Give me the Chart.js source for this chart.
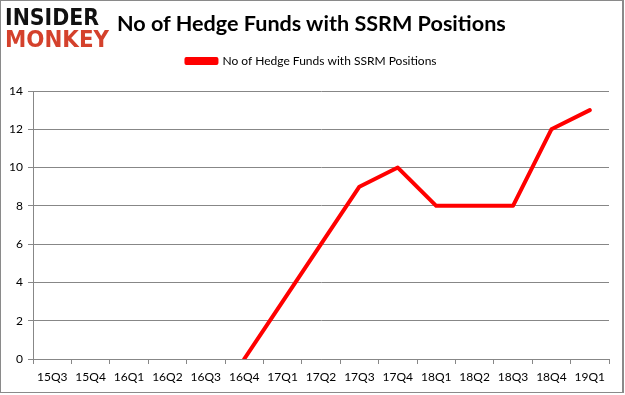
<!DOCTYPE html>
<html><head><meta charset="utf-8">
<script src="https://cdn.jsdelivr.net/npm/chart.js@4/dist/chart.umd.min.js"></script>
<style>
html,body{margin:0;padding:0;background:#fff;}
#wrap{position:relative;width:625px;height:395px;overflow:hidden;background:#fff;}
#frame{position:absolute;left:0;top:0;width:621px;height:391px;border:1px solid #8a8a8a;border-right-width:2px;pointer-events:none;}
.logo{position:absolute;left:5px;font-family:"DejaVu Sans";font-weight:bold;font-size:23px;line-height:23px;transform-origin:0 0;white-space:nowrap;}
#l1{top:6px;color:#111;}
#l2{top:28px;color:#d4412c;}
#title{position:absolute;left:117px;top:10px;font-family:Lato;font-weight:bold;font-size:21.6px;line-height:26px;color:#000;white-space:nowrap;}
canvas{position:absolute;left:0;top:0;}
</style></head>
<body>
<div id="wrap">
<canvas id="c" width="625" height="395"></canvas>
<div class="logo" id="l1">INSIDER</div>
<div class="logo" id="l2">MONKEY</div>
<div id="title">No of Hedge Funds with SSRM Positions</div>
<div id="frame"></div>
</div>
<script>
const categories = ["15Q3","15Q4","16Q1","16Q2","16Q3","16Q4","17Q1","17Q2","17Q3","17Q4","18Q1","18Q2","18Q3","18Q4","19Q1"];
const fundCounts = [null,null,null,null,null,0,3,6,9,10,8,8,8,12,13];
const seriesName = "No of Hedge Funds with SSRM Positions";
const yTicks = [0,2,4,6,8,10,12,14];

function fitW(id, w){const el=document.getElementById(id);const r=el.getBoundingClientRect().width;el.style.transform='scale('+(w/r)+',1)';}
fitW('l1',94); fitW('l2',104);

const gridCol = '#878787';
const legendGap = {
  id:'legendGap',
  beforeLayout(chart){
    const lg = chart.legend;
    if(lg && !lg._gapPatched){
      const f = lg.fit;
      lg.fit = function(){ f.call(this); this.height += 14; };
      lg._gapPatched = true;
    }
  },
  afterLayout(chart){
    const lg = chart.legend;
    if(lg){ lg.left += 7; lg.right += 7; }
  }
};

new Chart(document.getElementById('c'), {
  type:'line',
  data:{labels:categories, datasets:[{label:seriesName, data:fundCounts, borderColor:'#ff0000', backgroundColor:'#ff0000', borderWidth:4, pointRadius:0, pointHoverRadius:0, tension:0, spanGaps:false, borderJoinStyle:'round', borderCapStyle:'round'}]},
  plugins:[legendGap],
  options:{
    responsive:false, animation:false,
    layout:{padding:{top:45,left:0,right:16,bottom:0}},
    plugins:{
      legend:{display:true, position:'top', labels:{boxWidth:30, boxHeight:4, padding:10, color:'#000', font:{family:'Lato', size:12}}},
      tooltip:{enabled:false}
    },
    scales:{
      x:{
        offset:true,
        grid:{offset:true, drawOnChartArea:false, drawTicks:true, tickLength:5, color:gridCol},
        border:{display:true,color:gridCol,width:1},
        ticks:{color:'#000', font:{family:'Lato', size:12}, padding:6, maxRotation:0, autoSkip:false},
        afterFit(s){ s.height = 36; }
      },
      y:{
        min:0, max:14,
        grid:{color:gridCol, tickLength:5, drawTicks:true},
        border:{display:true,color:gridCol,width:1},
        ticks:{stepSize:2, color:'#000', font:{family:'Lato', size:12}, padding:5,
          callback:(v)=> yTicks.includes(v) ? String(v) : ''},
        afterFit(s){ s.width = 33; }
      }
    }
  }
});
</script>
</body></html>
